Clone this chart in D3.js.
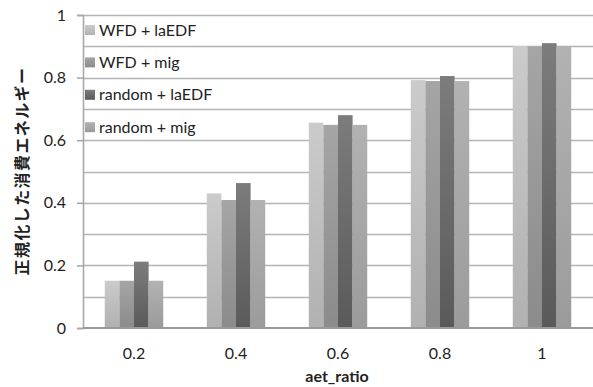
<!DOCTYPE html>
<html>
<head>
<meta charset="utf-8">
<script src="https://cdn.jsdelivr.net/npm/d3@7"></script>
<style>
  body { margin: 0; background: #fff; }
  svg text { font-family: Lato, "Open Sans", sans-serif; fill: #222; }
</style>
</head>
<body>
<svg id="chart"></svg>
<script>
const width = 593;
const height = 387;

// data
const categories = ['0.2', '0.4', '0.6', '0.8', '1'];
const series = ['WFD + laEDF', 'WFD + mig', 'random + laEDF', 'random + mig'];
const wfdLaedf = [0.151, 0.430, 0.656, 0.792, 0.901];
const wfdMig = [0.151, 0.409, 0.649, 0.789, 0.899];
const randomLaedf = [0.212, 0.463, 0.680, 0.805, 0.910];
const randomMig = [0.151, 0.409, 0.649, 0.789, 0.901];
const yTicks = [0, 0.2, 0.4, 0.6, 0.8, 1];

const values = [wfdLaedf, wfdMig, randomLaedf, randomMig];
// gradient stops top -> bottom for each series
const shades = [['#cbcbcb', '#b1b1b1'], ['#a5a5a5', '#8b8b8b'], ['#7c7c7c', '#5a5a5a'], ['#b2b2b2', '#9b9b9b']];

const margin = {top: 15, right: 0, bottom: 59, left: 83};

const svg = d3.select('#chart')
    .attr('width', width)
    .attr('height', height);

const defs = svg.append('defs');
shades.forEach(function(s, i) {
    const g = defs.append('linearGradient')
        .attr('id', 'grad' + i)
        .attr('x1', 0).attr('y1', 0).attr('x2', 0).attr('y2', 1);
    g.append('stop').attr('offset', '0%').attr('stop-color', s[0]);
    g.append('stop').attr('offset', '100%').attr('stop-color', s[1]);
});

const x0 = d3.scaleBand()
    .domain(categories)
    .range([margin.left, width - margin.right]);
const x1 = d3.scaleBand()
    .domain(series)
    .range([0, x0.bandwidth()])
    .paddingOuter(1.49);
const y = d3.scaleLinear()
    .domain([0, 1])
    .range([height - margin.bottom, margin.top]);

// gridlines every 0.1
svg.append('g')
    .selectAll('line')
    .data(d3.range(1, 11).map(d => d / 10))
    .enter()
    .append('line')
    .attr('x1', margin.left)
    .attr('x2', width)
    .attr('y1', d => Math.round(y(d)) + 0.5)
    .attr('y2', d => Math.round(y(d)) + 0.5)
    .attr('stroke', '#b4b4b4')
    .attr('stroke-width', 1.6);

// bars
const groups = svg.append('g')
    .selectAll('g')
    .data(categories)
    .enter()
    .append('g')
    .attr('transform', d => `translate(${x0(d)},0)`);

groups.selectAll('rect')
    .data((c, ci) => series.map((s, si) => ({s: s, si: si, v: values[si][ci]})))
    .enter()
    .append('rect')
    .attr('x', d => x1(d.s))
    .attr('width', x1.bandwidth())
    .attr('y', d => y(d.v))
    .attr('height', d => y(0) - y(d.v))
    .attr('fill', d => `url(#grad${d.si})`);

// y axis
const yAxis = svg.append('g')
    .attr('transform', `translate(${margin.left},0)`)
    .call(d3.axisLeft(y).tickValues(yTicks).tickSize(6).tickPadding(11).tickFormat(d3.format('~g')));
yAxis.select('.domain').attr('stroke', '#a8a8a8').attr('stroke-width', 1.6);
yAxis.selectAll('.tick line').attr('stroke', '#a8a8a8').attr('stroke-width', 1.6);
yAxis.selectAll('.tick text').style('font-size', '16px').attr('fill', '#222');

// x axis baseline + labels
svg.append('line')
    .attr('x1', margin.left)
    .attr('x2', width)
    .attr('y1', y(0))
    .attr('y2', y(0))
    .attr('stroke', '#9a9a9a')
    .attr('stroke-width', 1.8);

svg.append('g')
    .selectAll('text')
    .data(categories)
    .enter()
    .append('text')
    .attr('x', d => x0(d) + x0.bandwidth() / 2)
    .attr('y', 359)
    .attr('text-anchor', 'middle')
    .style('font-size', '16px')
    .text(d => d);

svg.append('text')
    .attr('x', 337)
    .attr('y', 382)
    .attr('text-anchor', 'middle')
    .style('font-size', '16px')
    .style('font-weight', 'bold')
    .text('aet_ratio');

svg.append('text')
    .attr('transform', 'translate(28,171) rotate(-90)')
    .attr('text-anchor', 'middle')
    .style('font-family', '"Noto Sans CJK JP", sans-serif')
    .style('font-size', '16px')
    .style('font-weight', 'bold')
    .style('letter-spacing', '1.4px')
    .text('正規化した消費エネルギー');

// legend
const legend = svg.append('g')
    .selectAll('g')
    .data(series)
    .enter()
    .append('g')
    .attr('transform', (d, i) => `translate(85,${25 + i * 32.4})`);
legend.append('rect')
    .attr('width', 10)
    .attr('height', 10)
    .attr('fill', (d, i) => `url(#grad${i})`);
legend.append('text')
    .attr('x', 14)
    .attr('y', 10.5)
    .style('font-size', '16px')
    .text(d => d);
</script>
</body>
</html>
